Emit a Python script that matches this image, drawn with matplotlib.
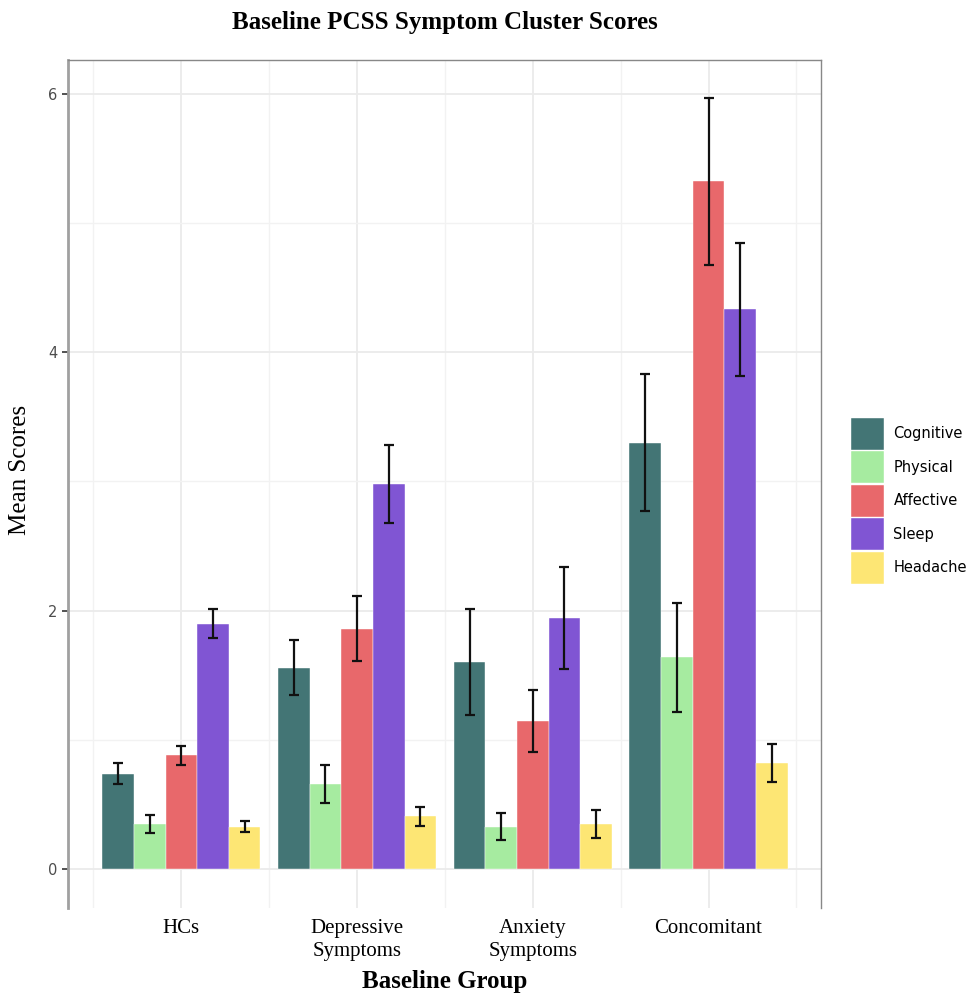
import numpy as np
import matplotlib
matplotlib.use('Agg')
import matplotlib.pyplot as plt
from matplotlib.ticker import MultipleLocator

# ---- data ----
groups = ['HCs', 'Depressive\nSymptoms', 'Anxiety\nSymptoms', 'Concomitant']
clusters = ['Cognitive', 'Physical', 'Affective', 'Sleep', 'Headache']

cognitive = [0.74, 1.56, 1.60, 3.30]
physical = [0.35, 0.66, 0.33, 1.64]
affective = [0.88, 1.86, 1.15, 5.32]
sleep = [1.90, 2.98, 1.94, 4.33]
headache = [0.33, 0.41, 0.35, 0.82]

cognitive_err = [0.08, 0.21, 0.41, 0.53]
physical_err = [0.07, 0.15, 0.105, 0.42]
affective_err = [0.076, 0.25, 0.24, 0.645]
sleep_err = [0.11, 0.30, 0.395, 0.515]
headache_err = [0.04, 0.075, 0.11, 0.147]

colors = ['#437575', '#A6EBA0', '#E8686B', '#8055D3', '#FDE674']

means = [cognitive, physical, affective, sleep, headache]
errs = [cognitive_err, physical_err, affective_err, sleep_err, headache_err]

# ---- figure ----
fig = plt.figure(figsize=(9.74, 9.93), dpi=100)
ax = fig.add_axes([0.0698, 0.0856, 0.7731, 0.854])

x = np.arange(1, len(groups) + 1)
dodge = 0.9
bw = dodge / len(clusters)

for i, (name, m, e, c) in enumerate(zip(clusters, means, errs, colors)):
    pos = x - dodge / 2 + bw * (i + 0.5)
    ax.bar(pos, m, width=bw, color=c, label=name, zorder=2,
           edgecolor='white', linewidth=0.3)
    ax.errorbar(pos, m, yerr=e, fmt='none', ecolor='#111111',
                elinewidth=1.6, capsize=3.5, capthick=1.6, zorder=3)

ax.set_xlim(0.355, 4.64)
ax.set_ylim(-0.3, 6.26)

# grid like ggplot theme_bw
ax.yaxis.set_major_locator(MultipleLocator(2))
ax.yaxis.set_minor_locator(MultipleLocator(1))
ax.set_xticks(x)
ax.set_xticks(np.arange(0.5, 5.0, 1.0), minor=True)
ax.grid(which='major', color='#EBEBEB', linewidth=1.3, zorder=0)
ax.grid(which='minor', color='#F2F2F2', linewidth=1.0, zorder=0)
ax.set_axisbelow(True)

ax.set_xticklabels(groups, fontfamily='Liberation Serif', fontsize=15,
                   linespacing=1.3)
ax.tick_params(axis='x', which='both', length=0, pad=8)
ax.tick_params(axis='y', which='major', length=4, color='#333333',
               labelcolor='#4D4D4D', labelsize=10.5, width=1.2)
ax.tick_params(axis='y', which='minor', length=0)

for s in ['top', 'right']:
    ax.spines[s].set_color('#888888')
    ax.spines[s].set_linewidth(1.0)
ax.spines['left'].set_color('#A0A0A0')
ax.spines['left'].set_linewidth(2.0)
ax.spines['bottom'].set_visible(False)

ax.set_xlabel('Baseline Group', fontfamily='Liberation Serif', fontsize=18,
              fontweight='bold', labelpad=6)
fig.text(20 / 974, 1 - 470 / 993, 'Mean Scores', fontfamily='Liberation Serif',
         fontsize=18, rotation=90, ha='center', va='center')

fig.text(0.4565, 1 - 22 / 993, 'Baseline PCSS Symptom Cluster Scores',
         fontfamily='Liberation Serif', fontsize=18, fontweight='bold',
         ha='center', va='center')

leg = ax.legend(loc='center left', bbox_to_anchor=(1.04, 0.48), frameon=False,
                fontsize=10.5, handlelength=2.25, handleheight=3.0,
                labelspacing=0.1, handletextpad=0.65, borderaxespad=0,
                borderpad=0)

fig.savefig('out.png', dpi=100)
